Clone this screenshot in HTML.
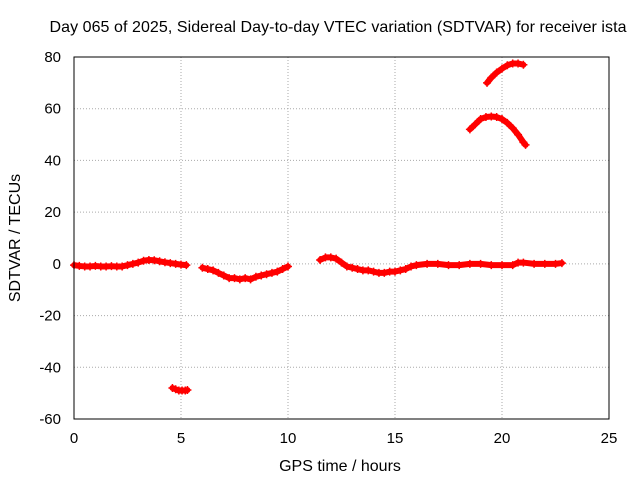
<!DOCTYPE html>
<html><head><meta charset="utf-8"><style>
body{margin:0;background:#fff;font-family:"Liberation Sans",sans-serif}
svg text{font-family:"Liberation Sans",sans-serif;font-size:15px;fill:#000}
svg text.big{font-size:16px}
</style></head><body>
<svg id="c" width="640" height="480">
<rect width="640" height="480" fill="#fff"/>
<text class="big" x="338" y="32" text-anchor="middle" textLength="577">Day 065 of 2025, Sidereal Day-to-day VTEC variation (SDTVAR) for receiver ista</text>
<text class="big" x="340" y="471" text-anchor="middle">GPS time / hours</text>
<text class="big" transform="translate(20,238) rotate(-90)" text-anchor="middle">SDTVAR / TECUs</text>
<g id="grid"></g><g id="ticks"></g><g id="marks"></g>
<rect x="74" y="57" width="535" height="362" fill="none" stroke="#000"/>
</svg>
<script>
const xTicks=[0,5,10,15,20,25];
const yTicks=[-60,-40,-20,0,20,40,60,80];
const seg1H=[0,0.25,0.5,0.75,1,1.25,1.5,1.75,2,2.25,2.5,2.75,3,3.25,3.5,3.75,4,4.25,4.5,4.75,5,5.25];
const seg1V=[-0.5,-0.8,-1,-1,-0.8,-1,-1,-0.9,-1,-1,-0.5,0,0.5,1.2,1.5,1.4,1,0.6,0.3,0,-0.3,-0.5];
const seg2H=[4.6,4.75,4.9,5.05,5.2,5.3];
const seg2V=[-48,-48.5,-49,-49,-49,-48.8];
const seg3H=[6,6.25,6.5,6.75,7,7.25,7.5,7.75,8,8.25,8.5,8.75,9,9.25,9.5,9.75,10];
const seg3V=[-1.5,-2,-2.5,-3.5,-4.5,-5.5,-5.5,-6,-5.5,-6,-5,-4.5,-4,-3.5,-3,-2,-1];
const seg4H=[11.5,11.75,12,12.25,12.5,12.75,13,13.25,13.5,13.75,14,14.25,14.5,14.75,15,15.25,15.5,15.75,16,16.5,17,17.5,18,18.5,19,19.5,20,20.5,20.75,21,21.5,22,22.5,22.8];
const seg4V=[1.5,2.5,2.5,2,0.5,-1,-1.5,-2,-2.5,-2.5,-3,-3.5,-3.5,-3,-3,-2.5,-2,-1,-0.5,0,0,-0.5,-0.5,0,0,-0.5,-0.5,-0.5,0.5,0.5,0,0,0,0.3];
const seg5H=[18.5,18.75,19,19.25,19.5,19.75,20,20.25,20.5,20.75,21,21.1];
const seg5V=[52,54,56,56.8,57,56.8,56,54.5,52.5,50,47,46];
const seg6H=[19.3,19.5,19.75,20,20.25,20.5,20.75,21];
const seg6V=[70,72,74,75.5,76.8,77.5,77.5,77];
const segs=[[seg1H,seg1V],[seg2H,seg2V],[seg3H,seg3V],[seg4H,seg4V],[seg5H,seg5V],[seg6H,seg6V]];
const X=h=>74+h*(535/25);
const Y=v=>57+(80-v)*(362/140);
const NS="http://www.w3.org/2000/svg";
function mk(t,a,p){const e=document.createElementNS(NS,t);for(const k in a)e.setAttribute(k,a[k]);p.appendChild(e);return e;}
const G=document.getElementById('grid'),T=document.getElementById('ticks'),M=document.getElementById('marks');
xTicks.forEach(t=>{const x=X(t);
 if(t>0&&t<25){const l=mk('line',{x1:x,x2:x,y1:57,y2:419,stroke:'#aaa','stroke-dasharray':'1,2'},G);
 
 }
 const s=mk('text',{x:x,y:443,'text-anchor':'middle'},T);s.textContent=t;
 
 
});
yTicks.forEach(t=>{const y=Y(t);
 if(t>-60&&t<80){const l=mk('line',{x1:74,x2:609,y1:y,y2:y,stroke:'#aaa','stroke-dasharray':'1,2'},G);
 
 }
 const s=mk('text',{x:61,y:y+5,'text-anchor':'end'},T);s.textContent=t;
 
 
});
segs.forEach(([H,V])=>{
 const pts=H.map((h,i)=>X(h)+','+Y(V[i])).join(' ');
 const pl=mk('polyline',{points:pts,fill:'none',stroke:'#f00','stroke-width':6,'stroke-linejoin':'round','stroke-linecap':'round'},M);
 
 
 H.forEach((h,i)=>{const x=X(h),y=Y(V[i]);
  const p=mk('path',{d:`M${x-4},${y}H${x+4}M${x},${y-4}V${y+4}`,stroke:'#f00','stroke-width':1.5},M);
  
  
 });
});
</script>
</body></html>
